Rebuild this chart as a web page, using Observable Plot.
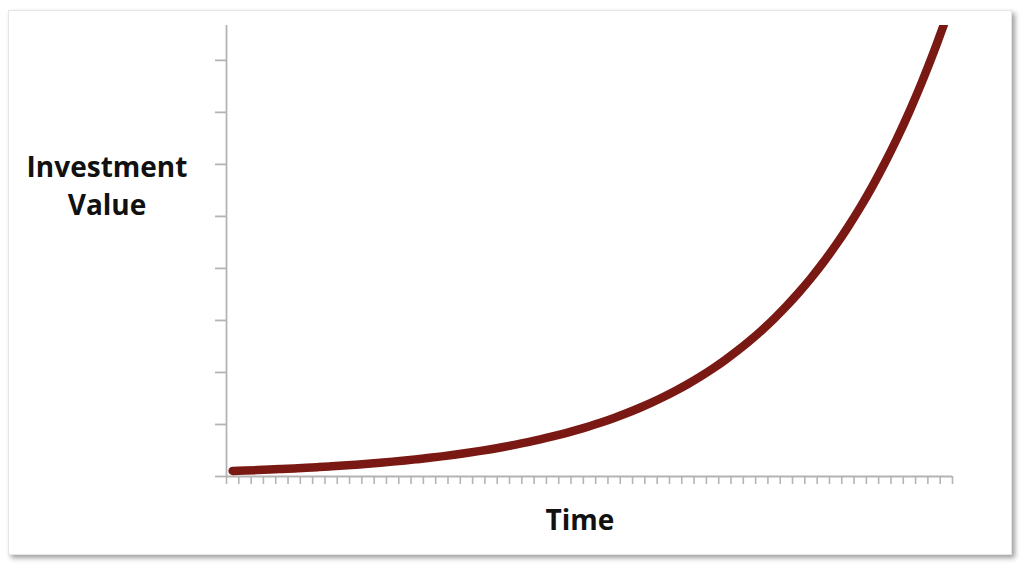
<!DOCTYPE html>
<html>
<head>
<meta charset="utf-8">
<script src="https://cdn.jsdelivr.net/npm/d3@7"></script>
<script src="https://cdn.jsdelivr.net/npm/@observablehq/plot@0.6"></script>
<style>
  html, body { margin: 0; padding: 0; background: #ffffff; }
  #wrap { position: relative; width: 1024px; height: 572px; overflow: hidden; }
  #frame { position: absolute; left: 8px; top: 10px; width: 1002px; height: 543px;
           background: #fff; border: 1px solid #e6e6e6;
           box-shadow: 3px 3px 5px rgba(0,0,0,0.38); }
  #chart { position: absolute; left: 0; top: 0; }
  .lbl { position: absolute; font-family: "Open Sans", sans-serif; font-weight: 700;
         color: #111; font-size: 28px; text-align: center; line-height: 38px; white-space: nowrap; }
</style>
</head>
<body>
<div id="wrap">
  <div id="frame"></div>
  <div id="chart"></div>
  <div class="lbl" id="ylab" style="left:7px; top:147px; width:200px;">Investment<br>Value</div>
  <div class="lbl" id="xlab" style="left:480px; top:500px; width:200px;">Time</div>
</div>
<script>
// Investment value per period (arbitrary units)
const values = [
  10.6, 11.4, 12.3, 13.3, 14.4, 15.5, 16.7, 18.1, 19.5, 21.0,
  22.7, 24.5, 26.5, 28.6, 30.8, 33.3, 35.9, 38.7, 41.8, 45.1,
  48.7, 52.5, 56.7, 61.2, 66.0, 71.3, 76.9, 83.0, 89.6, 96.7,
  104.3, 112.6, 121.5, 131.2, 141.5, 152.8, 164.9, 177.9, 192.0, 207.2,
  223.6, 241.4, 260.5, 281.1, 303.4, 327.4, 353.4, 381.4, 411.6, 444.2,
  479.4, 517.3, 558.3, 602.6, 650.3, 701.8, 757.4, 817.4, 882.1
];
const periods = values.map((_, i) => i + 1);
const xTicks = [0, ...periods].map(p => p + 0.5);
const yTicks = [0, 100, 200, 300, 400, 500, 600, 700, 800];
const yMax = 867;

const data = periods.map((p, i) => ({period: p, value: values[i]}));
const axisColor = "#b4b4b4";

const plot = Plot.plot({
  width: 1024,
  height: 572,
  marginLeft: 226,
  marginRight: 72,
  marginTop: 25,
  marginBottom: 96,
  style: {background: "transparent", overflow: "visible"},
  x: {domain: [0.5, periods.length + 0.5], axis: null},
  y: {domain: [0, yMax], axis: null},
  marks: [
    Plot.axisX({ticks: xTicks, tickSize: 8, tickFormat: () => "", stroke: axisColor, strokeWidth: 1.6, label: null}),
    Plot.axisY({ticks: yTicks, tickSize: 11, tickFormat: () => "", stroke: axisColor, strokeWidth: 1.8, label: null}),
    Plot.ruleY([0], {stroke: axisColor, strokeWidth: 1.8}),
    Plot.ruleX([0.5], {stroke: axisColor, strokeWidth: 1.8}),
    Plot.line(data, {x: "period", y: "value", stroke: "#7a1913", strokeWidth: 8.5,
      strokeLinecap: "round", strokeLinejoin: "round", curve: "monotone-x", clip: true})
  ]
});
document.getElementById("chart").appendChild(plot);
</script>
</body>
</html>
